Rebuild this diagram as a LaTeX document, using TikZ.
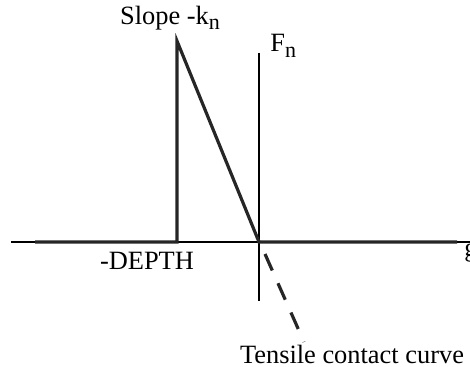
\documentclass[tikz,border=0pt]{standalone}
\usepackage{fontspec}
\setmainfont{Liberation Serif}
\usetikzlibrary{positioning,calc}
\newcommand{\lowsub}[1]{\raisebox{-0.45ex}{\fontsize{11pt}{13pt}\selectfont #1}}
\tikzset{
  axis/.style={line width=0.6pt, black},
  curve/.style={line width=1.6pt, black!85},
  tens/.style={curve, dash pattern=on 9pt off 7pt},
  lab/.style={font=\fontsize{13.2pt}{15pt}\selectfont, inner sep=1pt},
}
\begin{document}
\begin{tikzpicture}[x=0.5pt, y=-0.5pt]
  \useasboundingbox (0,0) rectangle (470,367);
  % axes
  \coordinate (xl) at (11,242);
  \coordinate (xr) at (475,242);
  \coordinate (yt) at (259,53);
  \coordinate (yb) at (259,301);
  \draw[axis] (xl) -- (xr);
  \draw[axis] (yt) -- (yb);
  % contact curve
  \coordinate (left) at (35,242);
  \coordinate (depth) at (177,242);
  \coordinate (peak) at (177,41);
  \coordinate (orig) at (259,242);
  \coordinate (right) at (457,242);
  \draw[curve] (left) -- (depth) -- (peak) -- (orig) -- (right);
  \coordinate (tstart) at (265,254);
  \coordinate (tend) at (304,342);
  \draw[tens] (tstart) -- (tend);
  % labels
  \node[lab] (slope) at (170,18) {Slope -k\lowsub{n}};
  \node[lab, anchor=west] (fn) at (268,46) {F\lowsub{n}};
  \node[lab] (dlab) at (147,261) {-DEPTH};
  \node[lab, anchor=west] (glab) at (462,253) {g};
  \node[lab] (tlab) at (352,354) {Tensile contact curve};
\end{tikzpicture}
\end{document}
